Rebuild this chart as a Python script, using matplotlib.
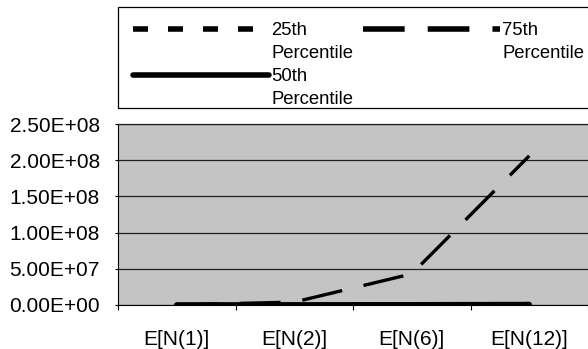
#recreate the percentile chart

import matplotlib
matplotlib.use("Agg")
import matplotlib.pyplot as plt
from matplotlib.lines import Line2D
from matplotlib.patches import Rectangle
from matplotlib.legend_handler import HandlerLine2D
import numpy as np

plt.rcParams['font.family'] = ['Liberation Sans', 'DejaVu Sans']
plt.rcParams['lines.scale_dashes'] = False

#data
categories = ["E[N(1)]", "E[N(2)]", "E[N(6)]", "E[N(12)]"]
p25 = [1.0e5, 4.0e5, 8.0e5, 1.5e6]
p50 = [5.0e4, 1.5e5, 3.0e5, 6.0e5]
p75 = [2.0e5, 4.0e6, 4.3e7, 2.06e8]
yticks = [0, 5e7, 1e8, 1.5e8, 2e8, 2.5e8]


#legend handle that sits level with the first line of a two line label
class TopLine(HandlerLine2D):
    def create_artists(self, legend, orig_handle, xdescent, ydescent,
                       width, height, fontsize, trans):
        arts = super().create_artists(legend, orig_handle, xdescent, ydescent,
                                      width, height, fontsize, trans)
        for a in arts:
            a.set_ydata(np.asarray(a.get_ydata()) + 9.5)
        return arts


fig = plt.figure(figsize=(5.88, 3.49), dpi=100)
ax = fig.add_axes([118/588, 1-305/349, 470/588, 181/349])
ax.set_facecolor("#c4c4c4")

x = np.arange(len(categories))

#draw the lines
ax.plot(x, p25, color="black", lw=3, dashes=(10.8, 14.4), dash_capstyle="butt")
ax.plot(x, p75, color="black", lw=2.4, dashes=(29.5, 15.8), dash_capstyle="butt")
ax.plot(x, p50, color="black", lw=4, solid_capstyle="round")

ax.set_xlim(-0.5, 3.5)
ax.set_ylim(0, 2.5e8)
ax.set_yticks(yticks)
ax.set_yticklabels(["{:.2E}".format(v) for v in yticks], fontsize=15)
ax.yaxis.grid(True, color="#202020", lw=0.9)
ax.set_axisbelow(True)

#category labels in the middle, tick marks at the edges
ax.set_xticks([-0.5, 0.5, 1.5, 2.5, 3.5])
ax.set_xticklabels([])
ax.set_xticks(x, minor=True)
ax.set_xticklabels(categories, minor=True, fontsize=15)
ax.tick_params(axis="x", which="minor", length=0, pad=18)
ax.tick_params(axis="x", which="major", length=3.6, direction="out")
ax.tick_params(axis="y", length=2.2, direction="out", pad=10.8)

ax.spines["right"].set_visible(False)
ax.spines["top"].set_color("#202020")
ax.spines["top"].set_linewidth(0.9)

#legend
h25 = Line2D([], [], color="black", lw=4, dashes=(10.8, 14.4), dash_capstyle="butt")
h50 = Line2D([], [], color="black", lw=4, solid_capstyle="round")
h75 = Line2D([], [], color="black", lw=4, dashes=(30, 16.6), dash_capstyle="butt")
leg = fig.legend([h25, h50, h75],
                 ["25th\nPercentile", "50th\nPercentile", "75th\nPercentile"],
                 loc="upper left", bbox_to_anchor=(118/588, 1-7/349),
                 ncol=2, fontsize=13.3, handlelength=7.4,
                 handletextpad=0.1, borderaxespad=0, borderpad=0.8,
                 labelspacing=0.37, columnspacing=0.55,
                 frameon=False, handler_map={Line2D: TopLine()})
for t in leg.get_texts():
    t.set_linespacing(1.45)

#legend box, it runs past the right edge
fig.patches.append(Rectangle((118/588, 1-108/349), 480/588, 101/349,
                             transform=fig.transFigure, fill=False,
                             edgecolor="black", lw=0.9))

fig.savefig("out.png", dpi=100)
